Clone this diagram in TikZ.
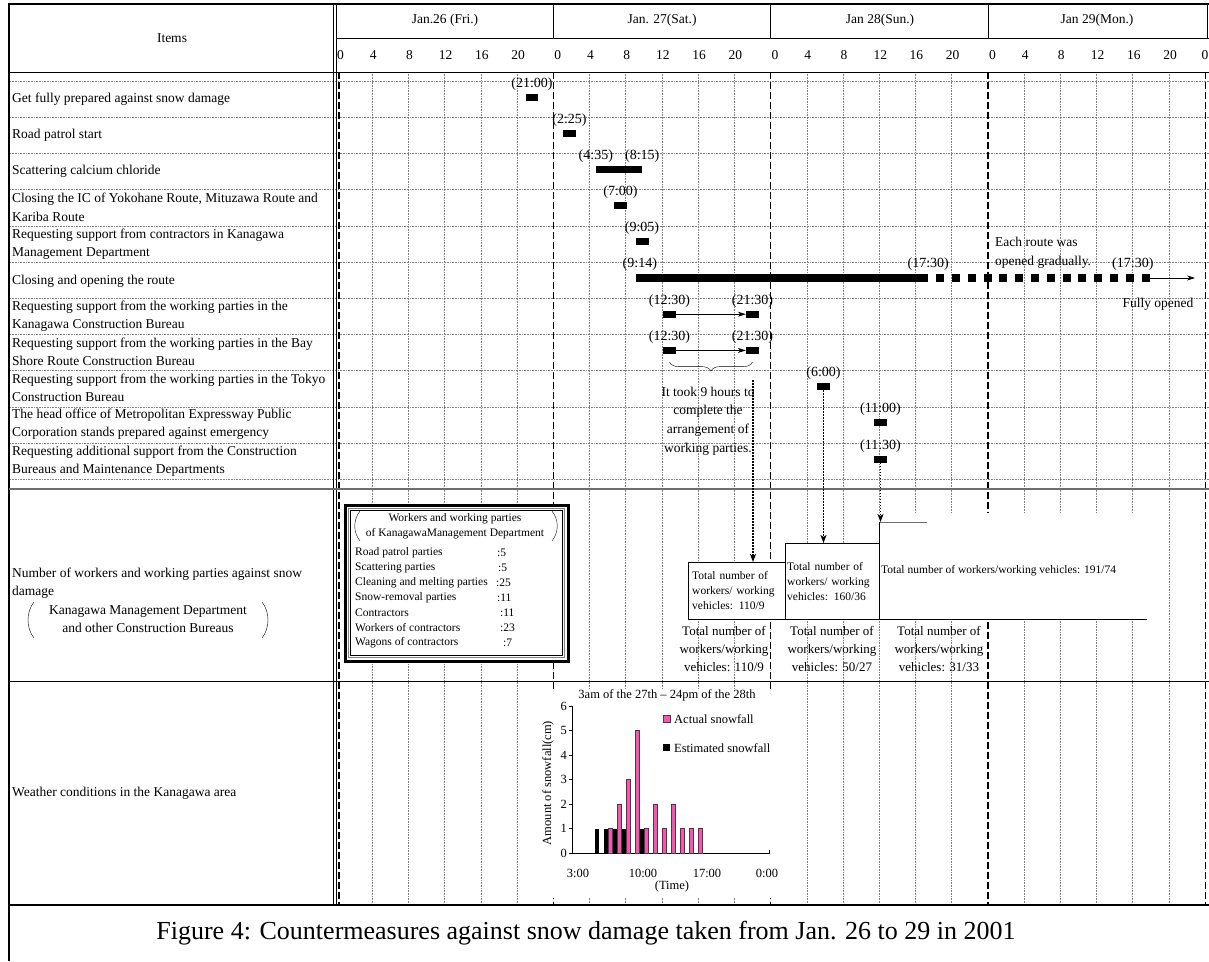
\documentclass[tikz,border=0pt]{standalone}
\usepackage{fontspec}
\setmainfont{Liberation Serif}
\usetikzlibrary{arrows.meta,decorations.pathreplacing,positioning}

\definecolor{snowpink}{RGB}{255,80,180}
\definecolor{rulegray}{RGB}{110,110,110}

\tikzstyle{hdr} = [inner sep=0pt, font=\fontsize{13.5}{19}\selectfont]
\tikzstyle{item} = [anchor=west, align=left, inner sep=0pt, font=\fontsize{13.5}{18.5}\selectfont]
\tikzstyle{clock} = [inner sep=0pt, font=\fontsize{14}{16}\selectfont]
\tikzstyle{evbar} = [fill=black, inner sep=0pt, minimum width=13pt, minimum height=7pt]
\tikzstyle{rowline} = [densely dotted, gray, line width=0.6pt]
\tikzstyle{hourline} = [densely dotted, gray, line width=0.6pt]
\tikzstyle{dayline} = [dash pattern=on 7pt off 3pt, line width=1.3pt]
\tikzstyle{thinarrow} = [line width=0.6pt, -{Stealth[length=8pt,width=5pt]}]
\tikzstyle{dotarrow} = [dash pattern=on 1.5pt off 1.5pt, line width=1.4pt, -{Stealth[length=8pt,width=6pt,inset=2pt]}]
\tikzstyle{listtxt} = [inner sep=0pt, font=\fontsize{11.5}{15}\selectfont]
\tikzstyle{totbox} = [draw, fill=white, inner sep=0pt, align=left, font=\fontsize{11.5}{15}\selectfont]
\tikzstyle{tottext} = [inner sep=0pt, align=center, font=\fontsize{13}{18}\selectfont]
\tikzstyle{chart} = [inner sep=0pt, font=\fontsize{12.5}{14}\selectfont]
\tikzstyle{actual} = [fill=snowpink, draw=black!75, line width=0.5pt]

\begin{document}
\begin{tikzpicture}[x=1pt,y=-1pt]
\useasboundingbox (0,0) rectangle (1209,961);
\fill[white] (0,0) rectangle (1209,961);

% grid
\foreach \i in {0,...,11}
  \draw[rowline] (10,{81+\i*36.2}) -- (1209,{81+\i*36.2});
\foreach \d in {0,...,3}
  \foreach \h in {1,...,5}
    \draw[hourline] ({336+\d*217.3+\h*36.22},72) -- ++(0,833);
\foreach \x in {339,553.3,770.6,987.9,1205.2}
  \draw[dayline] (\x,72) -- (\x,905);

% frame and header
\draw[line width=2pt] (9,961) -- (9,4) -- (1209,4);
\draw[line width=1pt] (333,4) -- (333,905) (336.5,4) -- (336.5,905);
\draw (336.5,38) -- (1209,38);
\draw[line width=0.8pt] (9,72) -- (1209,72);
\foreach \x in {553.3,770.6,987.9,1207.5}
  \draw (\x,4) -- (\x,38);
\draw[rulegray, line width=1.2pt] (9,489) -- (1209,489);
\draw[line width=1pt] (9,681) -- (1209,681);
\draw[line width=1.2pt] (9,905) -- (1209,905);

\node[hdr] (items) at (172,38) {Items};
\node[hdr] (day26) at (445,20) {Jan.26 (Fri.)};
\node[hdr] (day27) at (662,20) {Jan. 27(Sat.)};
\node[hdr] (day28) at (880,20) {Jan 28(Sun.)};
\node[hdr] (day29) at (1097,20) {Jan 29(Mon.)};
\foreach \d in {0,...,3}
  \foreach \h in {0,4,...,20}
    \node[hdr] (hr\d-\h) at ({336+\d*217.3+\h*9.055+ifthenelse(\h==0,4.5,1)},55) {\h};
\node[hdr] (hrend) at (1205,55) {0};

% items
\node[item] (r1) at (12,99) {Get fully prepared against snow damage};
\node[item] (r2) at (12,135) {Road patrol start};
\node[item] (r3) at (12,171) {Scattering calcium chloride};
\node[item] (r4) at (12,207.5) {Closing the IC of Yokohane Route, Mituzawa Route and\\Kariba Route};
\node[item] (r5) at (12,244) {Requesting support from contractors in Kanagawa\\Management Department};
\node[item] (r6) at (12,281) {Closing and opening the route};
\node[item] (r7) at (12,316) {Requesting support from the working parties in the\\Kanagawa Construction Bureau};
\node[item] (r8) at (12,352) {Requesting support from the working parties in the Bay\\Shore Route Construction Bureau};
\node[item] (r9) at (12,388) {Requesting support from the working parties in the Tokyo\\Construction Bureau};
\node[item] (r10) at (12,424) {The head office of Metropolitan Expressway Public\\Corporation stands prepared against emergency};
\node[item] (r11) at (12,461) {Requesting additional support from the Construction\\Bureaus and Maintenance Departments};
\node[item] (r12) at (12,583) {Number of workers and working parties against snow\\damage};
\node[hdr, align=center, font=\fontsize{13.5}{18.5}\selectfont] (r12b) at (148,619) {Kanagawa Management Department\\and other Construction Bureaus};
\draw (34,602) .. controls (26,612) and (26,628) .. (34,638);
\draw (262,602) .. controls (270,612) and (270,628) .. (262,638);
\node[item] (r13) at (12,793) {Weather conditions in the Kanagawa area};

% events
\node[evbar, minimum width=12pt] (prep) at (532,97) {};
\node[clock, above=3pt of prep] (prepT) {(21:00)};
\node[evbar] (patrol) at (569.5,133.2) {};
\node[clock, above=3pt of patrol] (patrolT) {(2:25)};
\node[evbar, minimum width=46pt] (calc) at (619,169.4) {};
\node[clock, above=3pt of calc.north west] (calcA) {(4:35)};
\node[clock, above=3pt of calc.north east] (calcB) {(8:15)};
\node[evbar] (ic) at (620.5,205.6) {};
\node[clock, above=3pt of ic] (icT) {(7:00)};
\node[evbar] (contr) at (642,241.8) {};
\node[clock, above=3pt of contr] (contrT) {(9:05)};
\node[evbar, minimum width=292pt, minimum height=8pt] (route) at (782,278) {};
\node[clock, above=3pt of route.north west, xshift=4pt] (routeA) {(9:14)};
\node[clock, above=3pt of route.north east] (routeB) {(17:30)};
\foreach \k in {0,...,13}
  \node[evbar, minimum width=8pt, minimum height=8pt] (sq\k) at ({940+\k*15.83},278) {};
\node[clock, above=3pt of sq13, xshift=-13pt] (routeC) {(17:30)};
\coordinate (openend) at (1195,278);
\draw[thinarrow] (sq13.east) -- (openend);
\node[hdr, align=left, anchor=west] (gradual) at (995,252.5) {Each route was\\opened gradually.};
\node[hdr] (fully) at (1158,304) {Fully opened};

\node[evbar] (kcbA) at (669.5,314.2) {};
\node[evbar] (kcbB) at (752.5,314.2) {};
\node[clock, above=3pt of kcbA] (kcbAT) {(12:30)};
\node[clock, above=3pt of kcbB] (kcbBT) {(21:30)};
\draw[thinarrow] (kcbA) -- (kcbB);
\node[evbar] (bsbA) at (669.5,350.4) {};
\node[evbar] (bsbB) at (752.5,350.4) {};
\node[clock, above=3pt of bsbA] (bsbAT) {(12:30)};
\node[clock, above=3pt of bsbB] (bsbBT) {(21:30)};
\draw[thinarrow] (bsbA) -- (bsbB);
\draw[decorate, decoration={brace, mirror, amplitude=9pt}] ([yshift=-8pt]bsbA.south) -- ([yshift=-8pt]bsbB.south);
\node[tottext, font=\fontsize{13.5}{18.7}\selectfont] (took) at (708,421) {It took 9 hours to\\complete the\\arrangement of\\working parties.};

\node[evbar] (tokyo) at (823.5,386.6) {};
\node[clock, above=3pt of tokyo] (tokyoT) {(6:00)};
\node[evbar] (hq) at (880.5,422.8) {};
\node[clock, above=3pt of hq] (hqT) {(11:00)};
\node[evbar] (addl) at (880.5,459) {};
\node[clock, above=3pt of addl] (addlT) {(11:30)};

% workers
\draw[line width=3pt, fill=white] (345,505) rectangle (568,661);
\draw[gray, line width=1.5pt] (348.5,508.5) rectangle (564.5,657.5);
\draw[line width=0.6pt] (350.5,510.5) rectangle (562.5,655.5);
\node[listtxt, align=center] (wtitle) at (455,526) {Workers and working parties\\of KanagawaManagement Department};
\draw (360,511) .. controls (353,520) and (353,532) .. (360,541);
\draw (552,511) .. controls (559,520) and (559,532) .. (552,541);
\foreach \t/\v/\c [count=\i] in {Road patrol parties/5/497,Scattering parties/5/498,Cleaning and melting parties/25/496,Snow-removal parties/11/497,Contractors/11/500,Workers of contractors/23/500,Wagons of contractors/7/503}{
  \node[listtxt, anchor=west] (wl\i) at (355,{538+\i*15}) {\t};
  \node[listtxt, anchor=west] (wv\i) at (\c,{538+\i*15}) {:\v};
}

\node[totbox, anchor=north west, minimum width=97pt, minimum height=57pt, text width=89pt, inner xsep=4pt] (tot1) at (688,562) {Total number of\\workers/ working\\vehicles: 110/9};
\node[totbox, anchor=north west, minimum width=94pt, minimum height=76pt, text width=90pt, inner xsep=2pt] (tot2) at (785,543) {Total number of\\workers/ working\\vehicles: 160/36};
\fill[white] (879,513) rectangle (1147,619);
\draw[rulegray] (927,522) -- (879,522);
\draw (879,522) -- (879,619) -- (1147,619);
\coordinate (tot3top) at (879,522);
\node[listtxt, anchor=west] (tot3) at (881,571) {Total number of workers/working vehicles: 191/74};

\coordinate (tookend) at (753,380);
\draw[dotarrow] (tookend) -- (tookend |- tot1.north);
\draw[dotarrow] (tokyo.south) -- (tokyo.south |- tot2.north);
\draw[dotarrow] (addl.south) -- (addl.south |- tot3top);

\node[tottext] (sum1) at (724,649) {Total number of\\workers/working\\vehicles: 110/9};
\node[tottext] (sum2) at (832,649) {Total number of\\workers/working\\vehicles: 50/27};
\node[tottext] (sum3) at (939,649) {Total number of\\workers/working\\vehicles: 31/33};

% snowfall chart
\fill[white] (525,689) rectangle (800,898);
\node[chart] (ctitle) at (667,695) {3am of the 27th – 24pm of the 28th};
\coordinate (origin) at (572,853);
\draw (572,706) -- (origin) -- (769,853) -- (769,850);
\foreach \v in {0,...,6}{
  \draw (569,{853-\v*24.5}) -- (572,{853-\v*24.5});
  \node[chart, anchor=east] (yl\v) at (567,{853-\v*24.5}) {\v};
}
\foreach \k/\a/\e in {0/0/1,1/0/1,2/1/1,3/2/1,4/3/0,5/5/1,6/1/0,7/2/0,8/1/0,9/2/0,10/1/0,11/1/0,12/1/0}{
  \ifnum\a>0 \draw[actual] ({590+\k*9},853) rectangle ++(4.5,{-\a*24.5}); \fi
  \ifnum\e>0 \fill ({594.5+\k*9},853) rectangle ++(4.5,{-\e*24.5}); \fi
}
\node[chart] (t3) at (578,873) {3:00};
\node[chart] (t10) at (643,873) {10:00};
\node[chart] (t17) at (707,873) {17:00};
\node[chart] (t24) at (767,873) {0:00};
\node[chart] (tunit) at (672,886) {(Time)};
\node[chart, rotate=90] (ylab) at (548,783) {Amount of snowfall(cm)};
\draw[actual] (663,715) rectangle (670,722);
\node[chart, anchor=west] (lega) at (674,719) {Actual snowfall};
\fill (663,744) rectangle (670,751);
\node[chart, anchor=west] (lege) at (674,748) {Estimated snowfall};

\node[inner sep=0pt, font=\fontsize{26}{30}\selectfont] (caption) at (586,933) {Figure 4: Countermeasures against snow damage taken from Jan. 26 to 29 in 2001};
\end{tikzpicture}
\end{document}
